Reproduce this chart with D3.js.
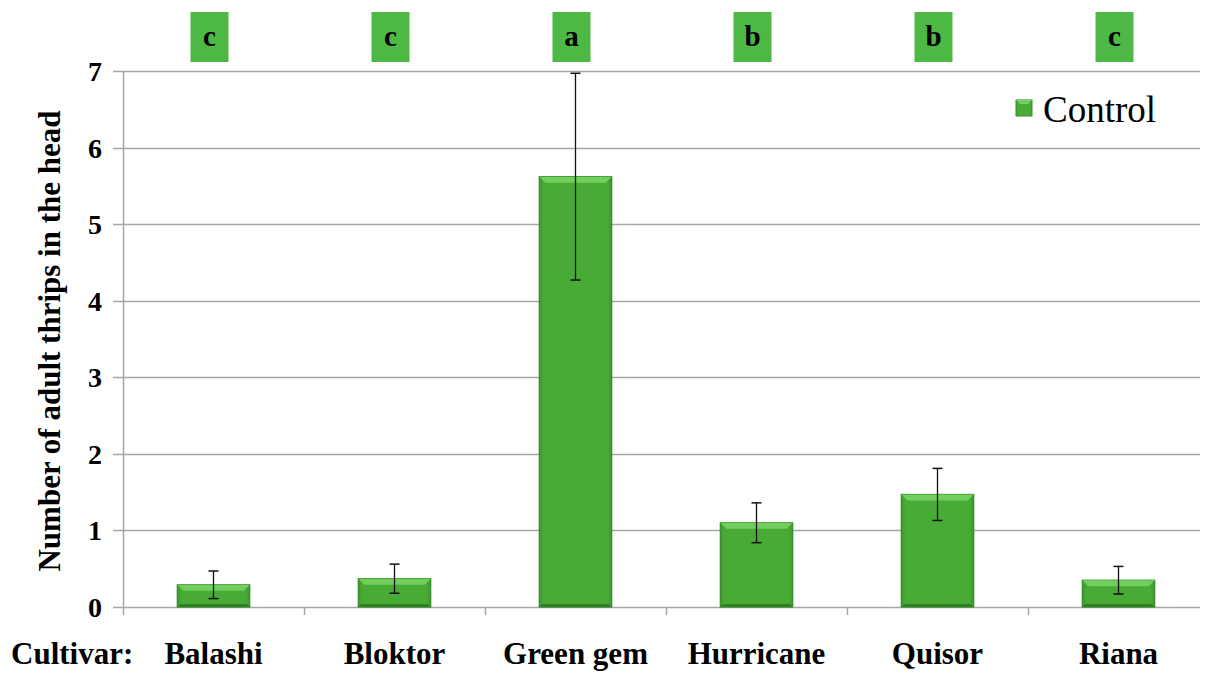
<!DOCTYPE html>
<html>
<head>
<meta charset="utf-8">
<script src="https://cdn.jsdelivr.net/npm/d3@7"></script>
<style>
  html, body { margin: 0; padding: 0; background: #fff; }
  svg { display: block; }
  text { font-family: "Liberation Serif", "Times New Roman", serif; }
</style>
</head>
<body>
<svg id="chart" width="1209" height="673"></svg>
<script>
// Mean adult thrips per head by cultivar (control treatment), with standard errors
const cultivars = ["Balashi", "Bloktor", "Green gem", "Hurricane", "Quisor", "Riana"];
const meanThrips = [0.29, 0.37, 5.62, 1.10, 1.47, 0.35];
const stdErr = [0.18, 0.19, 1.35, 0.26, 0.34, 0.18];
const groupLetters = ["c", "c", "a", "b", "b", "c"];
const yTicks = [0, 1, 2, 3, 4, 5, 6, 7];
const seriesName = "Control";

const svg = d3.select("#chart");
const margin = { left: 123, right: 0, top: 71, bottom: 66 };
const width = 1209, height = 673;
const plotBottom = height - margin.bottom; // 607

const x = d3.scaleBand()
  .domain(cultivars)
  .range([margin.left, width - margin.right])
  .paddingInner(0.6)
  .paddingOuter(0.3);

const y = d3.scaleLinear().domain([0, 7]).range([plotBottom, margin.top]);

const grid = "#a6a6a6";

// Horizontal gridlines
svg.append("g").selectAll("line")
  .data(yTicks)
  .join("line")
  .attr("x1", margin.left - 10)
  .attr("x2", width - 9)
  .attr("y1", d => Math.round(y(d)) + 0.5)
  .attr("y2", d => Math.round(y(d)) + 0.5)
  .attr("stroke", grid)
  .attr("stroke-width", 1.5);

// Y axis line
svg.append("line")
  .attr("x1", margin.left + 0.5).attr("x2", margin.left + 0.5)
  .attr("y1", y(7)).attr("y2", plotBottom + 8)
  .attr("stroke", grid).attr("stroke-width", 1.5);

// Category separator ticks below the baseline
const step = x.step();
const sepTicks = d3.range(1, cultivars.length).map(i => margin.left + i * step);
svg.append("g").selectAll("line")
  .data(sepTicks)
  .join("line")
  .attr("x1", d => Math.round(d) + 0.5).attr("x2", d => Math.round(d) + 0.5)
  .attr("y1", plotBottom).attr("y2", plotBottom + 8)
  .attr("stroke", grid).attr("stroke-width", 1.5);

// Y tick labels
svg.append("g").selectAll("text")
  .data(yTicks)
  .join("text")
  .attr("x", 102)
  .attr("y", d => y(d) + 10)
  .attr("text-anchor", "end")
  .attr("font-size", 28)
  .attr("font-weight", "bold")
  .text(d => d);

// Y axis title
svg.append("text")
  .attr("transform", `translate(60, ${(y(0) + y(7)) / 2 + 2}) rotate(-90)`)
  .attr("text-anchor", "middle")
  .attr("font-size", 31)
  .attr("font-weight", "bold")
  .text("Number of adult thrips in the head");

// Bar styling: bevelled green columns
const defs = svg.append("defs");
const grad = defs.append("linearGradient").attr("id", "barFill")
  .attr("x1", 0).attr("x2", 1).attr("y1", 0).attr("y2", 0);
grad.append("stop").attr("offset", "0%").attr("stop-color", "#3d9a2f");
grad.append("stop").attr("offset", "6%").attr("stop-color", "#47ab36");
grad.append("stop").attr("offset", "94%").attr("stop-color", "#47ab36");
grad.append("stop").attr("offset", "100%").attr("stop-color", "#3d9a2f");

const data = cultivars.map((c, i) => ({ c, v: meanThrips[i], e: stdErr[i], g: groupLetters[i] }));

const bars = svg.append("g").selectAll("g")
  .data(data)
  .join("g");

bars.append("rect")
  .attr("x", d => x(d.c))
  .attr("y", d => y(d.v))
  .attr("width", x.bandwidth())
  .attr("height", d => plotBottom - y(d.v))
  .attr("fill", "url(#barFill)")
  .attr("stroke", "#358a29")
  .attr("stroke-width", 1.2);

// Top bevel highlight
const bevel = 6;
bars.append("path")
  .attr("d", d => {
    const x0 = x(d.c), x1 = x0 + x.bandwidth(), t = y(d.v);
    const b = Math.min(bevel, (plotBottom - t) / 2);
    return `M${x0},${t} L${x1},${t} L${x1 - b},${t + b} L${x0 + b},${t + b} Z`;
  })
  .attr("fill", "#72cf5e");

// Bottom bevel shade
bars.append("path")
  .attr("d", d => {
    const x0 = x(d.c), x1 = x0 + x.bandwidth(), t = y(d.v);
    const b = Math.min(3, (plotBottom - t) / 3);
    return `M${x0},${plotBottom} L${x1},${plotBottom} L${x1 - b},${plotBottom - b} L${x0 + b},${plotBottom - b} Z`;
  })
  .attr("fill", "#2f7f24");

// Error bars
const cap = 5;
bars.each(function (d) {
  const g = d3.select(this);
  const cx = x(d.c) + x.bandwidth() / 2;
  const hi = y(d.v + d.e), lo = y(d.v - d.e);
  g.append("line").attr("x1", cx).attr("x2", cx).attr("y1", hi).attr("y2", lo)
    .attr("stroke", "#111").attr("stroke-width", 1.3);
  [hi, lo].forEach(yy => {
    g.append("line").attr("x1", cx - cap).attr("x2", cx + cap).attr("y1", yy).attr("y2", yy)
      .attr("stroke", "#111").attr("stroke-width", 1.5);
  });
});

// Significance letters in green boxes above each cultivar
const letterG = svg.append("g").selectAll("g")
  .data(data)
  .join("g")
  .attr("transform", d => `translate(${x(d.c) + x.bandwidth() / 2 - 4}, 12)`);
letterG.append("rect")
  .attr("x", -19).attr("y", 0).attr("width", 38).attr("height", 50)
  .attr("fill", "#4db843");
letterG.append("text")
  .attr("x", 0).attr("y", 34)
  .attr("text-anchor", "middle")
  .attr("font-size", 29)
  .attr("font-weight", "bold")
  .attr("fill", "#000")
  .text(d => d.g);

// Category labels
svg.append("g").selectAll("text")
  .data(cultivars)
  .join("text")
  .attr("x", d => x(d) + x.bandwidth() / 2)
  .attr("y", 664)
  .attr("text-anchor", "middle")
  .attr("font-size", 31)
  .attr("font-weight", "bold")
  .text(d => d);

svg.append("text")
  .attr("x", 11).attr("y", 664)
  .attr("font-size", 31)
  .attr("font-weight", "bold")
  .text("Cultivar:");

// Legend
const lg = svg.append("g").attr("transform", "translate(1016, 100)");
lg.append("rect").attr("width", 16).attr("height", 16)
  .attr("fill", "#47ab36").attr("stroke", "#358a29").attr("stroke-width", 1);
lg.append("path").attr("d", "M0,0 L16,0 L12,4 L4,4 Z").attr("fill", "#72cf5e");
lg.append("text").attr("x", 27).attr("y", 22)
  .attr("font-size", 37)
  .text(seriesName);
</script>
</body>
</html>
